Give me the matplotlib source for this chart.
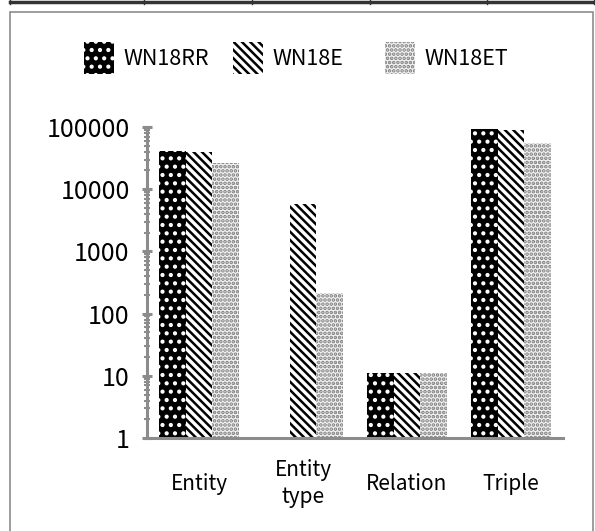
import matplotlib.pyplot as plt
import numpy as np
from matplotlib.patches import Rectangle
from matplotlib.lines import Line2D

plt.rcParams['font.family'] = ['Noto Sans CJK KR', 'DejaVu Sans']
plt.rcParams['hatch.linewidth'] = 1.8

categories = ['Entity', 'Entity\ntype', 'Relation', 'Triple']
series = ['WN18RR', 'WN18E', 'WN18ET']
wn18rr = [40943, 0, 11, 93003]
wn18e = [40000, 5800, 11, 88000]
wn18et = [26500, 215, 11, 55000]

styles = [
    dict(facecolor='black', edgecolor='white', hatch='..'),
    dict(facecolor='white', edgecolor='black', hatch='\\\\\\\\'),
    dict(facecolor='#f2f2f2', edgecolor='#7c7c7c', hatch='....'),
]
gray = '#8c8c8c'

fig = plt.figure(figsize=(5.95, 5.31), dpi=100)
ax = fig.add_axes([147 / 595, 1 - 438 / 531, 416 / 595, 311 / 531])

x = np.arange(len(categories))
w = 0.255
bars = []
for i, (vals, st) in enumerate(zip([wn18rr, wn18e, wn18et], styles)):
    v = np.array(vals, dtype=float)
    v[v == 0] = np.nan
    bars.append(ax.bar(x + (i - 1) * w, v, width=w, linewidth=0, label=series[i], **st))

ax.set_yscale('log')
ax.set_ylim(1, 100000)
ax.set_xlim(-0.5, 3.5)
ax.set_yticks([1, 10, 100, 1000, 10000, 100000])
ax.set_yticklabels(['1', '10', '100', '1000', '10000', '100000'])
ax.set_xticks(x)
ax.set_xticklabels(categories, va='center', linespacing=1.3)

for s in ['top', 'right']:
    ax.spines[s].set_visible(False)
for s in ['left', 'bottom']:
    ax.spines[s].set_color(gray)
    ax.spines[s].set_linewidth(2.2)
ax.spines['bottom'].set_bounds(-0.53, 3.5)

ax.tick_params(axis='y', which='major', direction='inout', length=7, width=2.2,
               color=gray, labelsize=18, pad=9)
ax.tick_params(axis='y', which='minor', direction='inout', length=4, width=1.5,
               color=gray)
ax.tick_params(axis='x', length=0, labelsize=15, pad=33)

# legend entries sit in equal-width columns, like the original
for b, name, xl in zip(bars, series, [84, 233, 385]):
    fig.legend(handles=[b], labels=[name], loc='center left',
               bbox_to_anchor=(xl / 595, 1 - 58 / 531), frameon=False,
               fontsize=15.5, handlelength=1.4, handleheight=1.9,
               handletextpad=0.45, borderpad=0, borderaxespad=0)

# surrounding frame and the table edge above it
fig.add_artist(Rectangle((10 / 595, -0.01), 583 / 595, 1 - 12 / 531 + 0.01,
                         transform=fig.transFigure, fill=False,
                         edgecolor=gray, linewidth=1.2))
fig.add_artist(Line2D([10 / 595, 1], [1 - 2 / 531] * 2, transform=fig.transFigure,
                      color='#333333', linewidth=2.5))
for xv in [10, 144, 252, 370, 487, 594]:
    fig.add_artist(Line2D([xv / 595] * 2, [1 - 4 / 531, 1], transform=fig.transFigure,
                          color='#333333', linewidth=1))

fig.savefig('out.png', dpi=100)
